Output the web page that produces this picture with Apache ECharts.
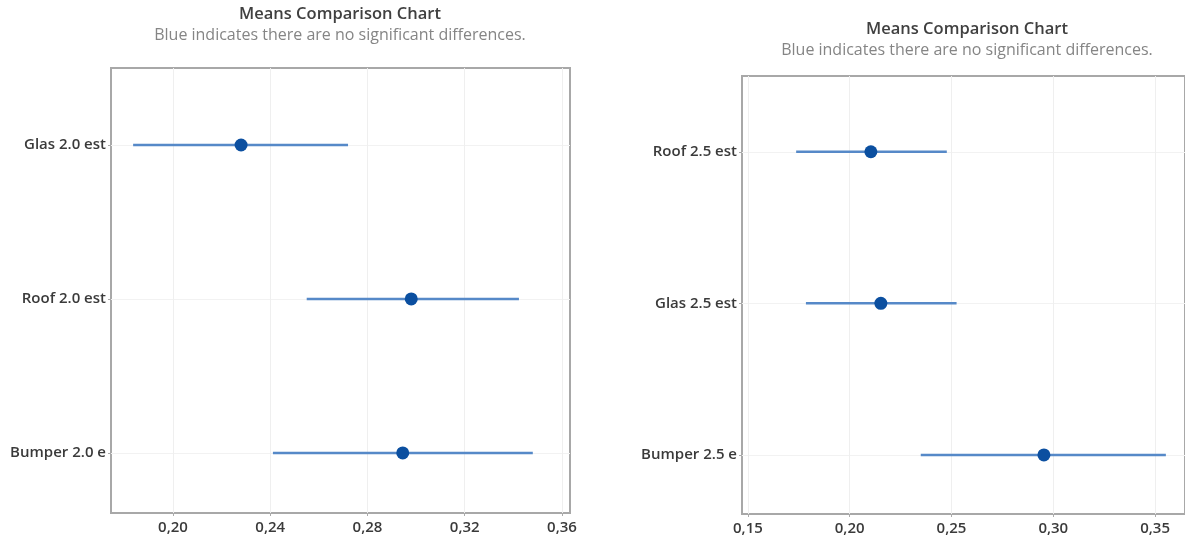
<!DOCTYPE html>
<html>
<head>
<meta charset="utf-8">
<script src="https://cdn.jsdelivr.net/npm/echarts@6/dist/echarts.min.js"></script>
<style>
html,body{margin:0;padding:0;background:#fff;}
#chart{width:1185px;height:554px;}
</style>
</head>
<body>
<div id="chart"></div>
<script>
// ---- data ----
const titleText = 'Means Comparison Chart';
const subtitleText = 'Blue indicates there are no significant differences.';

const leftCategories = ['Glas 2.0 est', 'Roof 2.0 est', 'Bumper 2.0 e'];
const leftMeans = [0.228, 0.298, 0.2945];
const leftLower = [0.1836, 0.255, 0.2411];
const leftUpper = [0.272, 0.3423, 0.348];
const leftTicks = [0.20, 0.24, 0.28, 0.32, 0.36];

const rightCategories = ['Roof 2.5 est', 'Glas 2.5 est', 'Bumper 2.5 e'];
const rightMeans = [0.2104, 0.2153, 0.2954];
const rightLower = [0.1737, 0.1785, 0.2349];
const rightUpper = [0.2477, 0.2525, 0.3553];
const rightTicks = [0.15, 0.20, 0.25, 0.30, 0.35];

const catPositions = [1, 2, 3];

// ---- chart ----
const FONT = '"Open Sans", "Noto Sans", sans-serif';
const chart = echarts.init(document.getElementById('chart'), null, {renderer: 'canvas'});

function xAxis(gi, ticks, min, max) {
  return {
    type: 'value', gridIndex: gi, min: min, max: max,
    axisLine: {show: false},
    axisTick: {show: true, customValues: ticks, length: 3, lineStyle: {color: '#aaaaaa'}},
    axisLabel: {customValues: ticks, margin: 7, color: '#3a3a3a', fontFamily: FONT, fontSize: 15, fontWeight: 600,
      formatter: v => v.toFixed(2).replace('.', ',')},
    splitLine: {show: true, lineStyle: {color: '#efefef', width: 1}}
  };
}
function yAxis(gi, cats) {
  return {
    type: 'value', gridIndex: gi, inverse: true, min: 0.5, max: 3.39,
    axisLine: {show: false},
    axisTick: {show: true, customValues: catPositions, length: 3, lineStyle: {color: '#aaaaaa'}},
    axisLabel: {customValues: catPositions, margin: 5, color: '#3a3a3a', fontFamily: FONT, fontSize: 15, fontWeight: 600,
      formatter: v => cats[Math.round(v) - 1] || ''},
    splitLine: {show: true, lineStyle: {color: '#f2f2f2', width: 1}}
  };
}
function errSeries(i, lower, upper) {
  return {
    type: 'custom', xAxisIndex: i, yAxisIndex: i, silent: true,
    data: lower.map((l, k) => [l, upper[k], catPositions[k]]),
    encode: {x: [0, 1], y: 2},
    renderItem: (params, api) => {
      const p1 = api.coord([api.value(0), api.value(2)]);
      const p2 = api.coord([api.value(1), api.value(2)]);
      return {type: 'line', shape: {x1: p1[0], y1: p1[1], x2: p2[0], y2: p2[1]},
        style: {stroke: '#5689c8', lineWidth: 2.5}};
    },
    z: 2
  };
}
function meanSeries(i, means) {
  return {
    type: 'scatter', xAxisIndex: i, yAxisIndex: i, silent: true,
    data: means.map((m, k) => [m, catPositions[k]]),
    symbol: 'circle', symbolSize: 13,
    itemStyle: {color: '#0b4fa0', opacity: 1},
    z: 3
  };
}

const option = {
  animation: false,
  backgroundColor: '#ffffff',
  title: [
    {text: titleText, subtext: subtitleText, left: 340, top: 6, textAlign: 'center', padding: 0, itemGap: 4,
      textStyle: {fontFamily: FONT, fontSize: 16.5, fontWeight: 600, color: '#404040'},
      subtextStyle: {fontFamily: FONT, fontSize: 16, color: '#858585'}},
    {text: titleText, subtext: subtitleText, left: 967, top: 21, textAlign: 'center', padding: 0, itemGap: 4,
      textStyle: {fontFamily: FONT, fontSize: 16.5, fontWeight: 600, color: '#404040'},
      subtextStyle: {fontFamily: FONT, fontSize: 16, color: '#858585'}}
  ],
  grid: [
    {left: 111, width: 459, top: 68, bottom: 41, show: true, borderColor: '#a8a8a8', borderWidth: 2, backgroundColor: 'transparent'},
    {left: 742, right: -7, top: 76, bottom: 40, show: true, borderColor: '#a8a8a8', borderWidth: 2, backgroundColor: 'transparent'}
  ],
  xAxis: [xAxis(0, leftTicks, 0.1745, 0.3633), xAxis(1, rightTicks, 0.1471, 0.3647)],
  yAxis: [yAxis(0, leftCategories), yAxis(1, rightCategories)],
  series: [
    errSeries(0, leftLower, leftUpper), meanSeries(0, leftMeans),
    errSeries(1, rightLower, rightUpper), meanSeries(1, rightMeans)
  ]
};
chart.setOption(option);
</script>
</body>
</html>
